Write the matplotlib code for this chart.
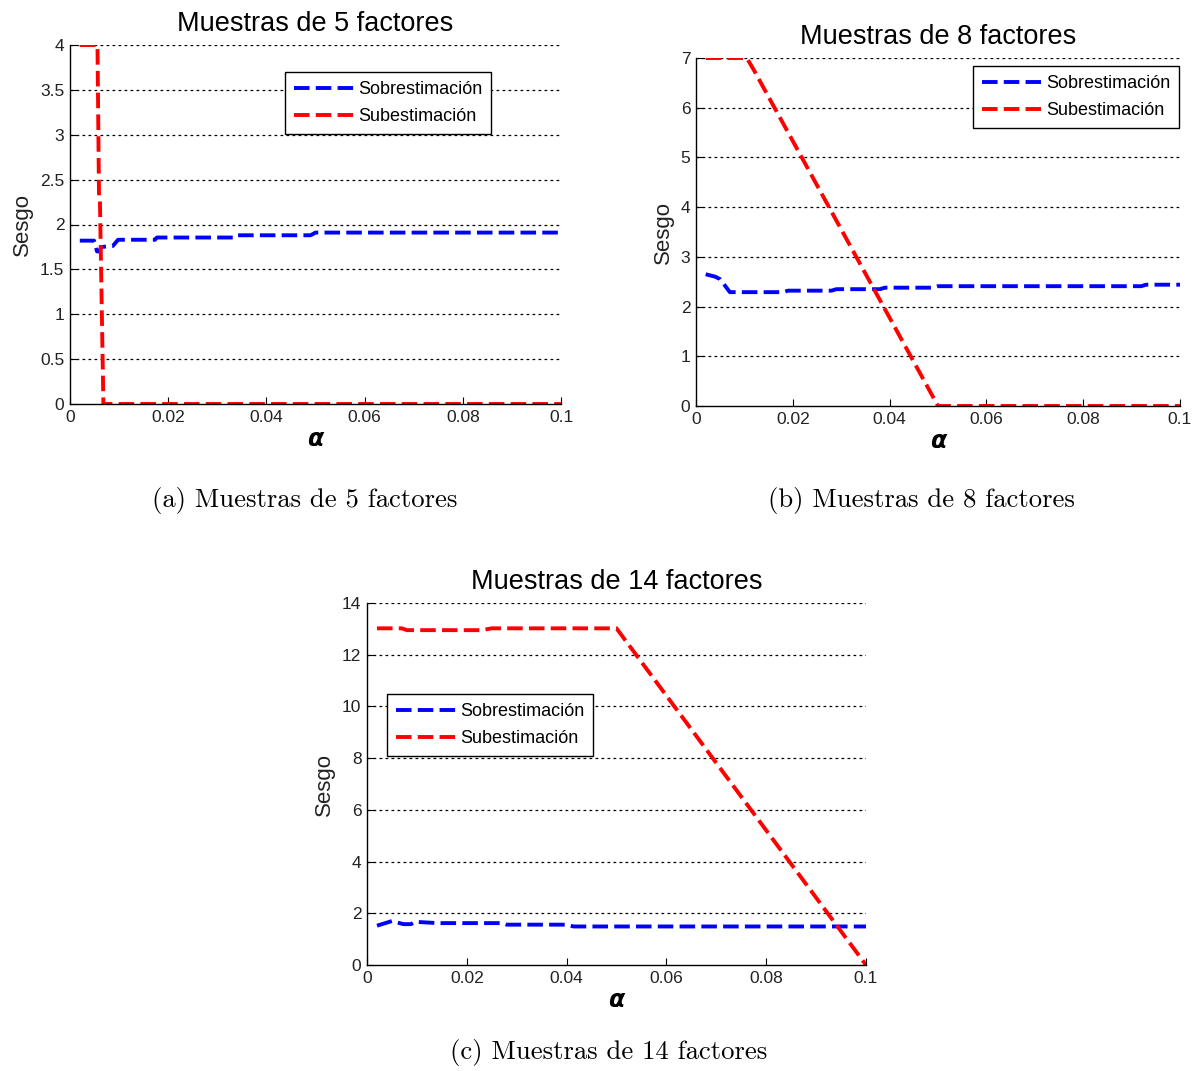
import matplotlib
matplotlib.use("Agg")
import matplotlib.pyplot as plt

# ---------------- data ----------------
titles = ["Muestras de 5 factores", "Muestras de 8 factores", "Muestras de 14 factores"]
captions = ["(a) Muestras de 5 factores", "(b) Muestras de 8 factores", "(c) Muestras de 14 factores"]
series_names = ["Sobrestimación", "Subestimación"]

xticks = [0, 0.02, 0.04, 0.06, 0.08, 0.1]
xticklabels = ["0", "0.02", "0.04", "0.06", "0.08", "0.1"]

# (a) 5 factores
a_over_x = [0.002, 0.0049, 0.0055, 0.006, 0.0064, 0.0087, 0.0098, 0.0173, 0.0177, 0.0335, 0.034, 0.049, 0.050, 0.1]
a_over_y = [1.82, 1.82, 1.70, 1.70, 1.75, 1.76, 1.83, 1.83, 1.855, 1.855, 1.88, 1.88, 1.91, 1.91]
a_under_x = [0.002, 0.0056, 0.0059, 0.0061, 0.0068, 0.1]
a_under_y = [4.0, 4.0, 2.35, 2.25, 0.0, 0.0]
a_yticks = [0, 0.5, 1, 1.5, 2, 2.5, 3, 3.5, 4]
a_yticklabels = ["0", "0.5", "1", "1.5", "2", "2.5", "3", "3.5", "4"]

# (b) 8 factores
b_over_x = [0.002, 0.004, 0.005, 0.007, 0.018, 0.019, 0.028, 0.029, 0.038, 0.039, 0.049, 0.050, 0.092, 0.093, 0.1]
b_over_y = [2.65, 2.60, 2.55, 2.29, 2.29, 2.32, 2.32, 2.35, 2.35, 2.38, 2.38, 2.41, 2.41, 2.44, 2.44]
b_under_x = [0.002, 0.0105, 0.012, 0.050, 0.1]
b_under_y = [7.0, 7.0, 6.75, 0.0, 0.0]
b_yticks = [0, 1, 2, 3, 4, 5, 6, 7]
b_yticklabels = ["0", "1", "2", "3", "4", "5", "6", "7"]

# (c) 14 factores
c_over_x = [0.002, 0.005, 0.0073, 0.0088, 0.0096, 0.0142, 0.0272, 0.028, 0.040, 0.0414, 0.1]
c_over_y = [1.52, 1.70, 1.58, 1.58, 1.67, 1.62, 1.62, 1.56, 1.56, 1.49, 1.49]
c_under_x = [0.002, 0.007, 0.008, 0.023, 0.025, 0.050, 0.1]
c_under_y = [13.02, 13.02, 12.95, 12.95, 13.02, 13.02, 0.0]
c_yticks = [0, 2, 4, 6, 8, 10, 12, 14]
c_yticklabels = ["0", "2", "4", "6", "8", "10", "12", "14"]

# ---------------- layout ----------------
W, H = 1200, 1071
fig = plt.figure(figsize=(W / 100, H / 100), dpi=100)
plt.rcParams["font.family"] = ["Liberation Sans", "DejaVu Sans"]

def frac_rect(l, r, t, b):
    return [l / W, 1 - b / H, (r - l) / W, (b - t) / H]

panels = [
    dict(rect=frac_rect(70, 561, 45, 404), over=(a_over_x, a_over_y), under=(a_under_x, a_under_y),
         yt=a_yticks, ytl=a_yticklabels, ylim=(0, 4), leg=(0.438, 0.925)),
    dict(rect=frac_rect(696, 1180, 58, 406), over=(b_over_x, b_over_y), under=(b_under_x, b_under_y),
         yt=b_yticks, ytl=b_yticklabels, ylim=(0, 7), leg=(0.572, 0.977)),
    dict(rect=frac_rect(367, 866, 603, 965), over=(c_over_x, c_over_y), under=(c_under_x, c_under_y),
         yt=c_yticks, ytl=c_yticklabels, ylim=(0, 14), leg=(0.040, 0.748)),
]

tick_color = "#222222"
dash = (4.0, 1.6)

for i, p in enumerate(panels):
    ax = fig.add_axes(p["rect"])
    ax.set_xlim(0, 0.1)
    ax.set_ylim(*p["ylim"])
    for yv in p["yt"][1:]:
        ax.axhline(yv, color="black", lw=0.9, linestyle=(0, (2.2, 2.6)), zorder=1)
    l1, = ax.plot(p["over"][0], p["over"][1], color="#0000ff", lw=2.8, dashes=dash, zorder=3,
                  label=series_names[0])
    l2, = ax.plot(p["under"][0], p["under"][1], color="#ff0000", lw=2.8, dashes=dash, zorder=3,
                  label=series_names[1])
    for s in ["top", "right"]:
        ax.spines[s].set_visible(False)
    for s in ["left", "bottom"]:
        ax.spines[s].set_linewidth(1.0)
        ax.spines[s].set_color("black")
    ax.spines["left"].set_zorder(4)
    ax.spines["bottom"].set_zorder(4)
    ax.set_xticks(xticks)
    ax.set_xticklabels(xticklabels)
    ax.set_yticks(p["yt"])
    ax.set_yticklabels(p["ytl"])
    ax.tick_params(direction="in", length=5, width=0.8, labelsize=12.5, colors="black",
                   labelcolor=tick_color, pad=4)
    ax.set_ylabel("Sesgo", fontsize=16, color=tick_color, labelpad=5)
    ax.set_xlabel("α", fontsize=17, fontweight="bold", fontstyle="italic",
                  family="DejaVu Sans", labelpad=2)
    ax.set_title(titles[i], fontsize=19.5, pad=10, color="black")
    leg = ax.legend(handles=[l1, l2], loc="upper left", bbox_to_anchor=p["leg"],
                    fontsize=13, frameon=True, fancybox=False, framealpha=1,
                    edgecolor="black", handlelength=3.3, handletextpad=0.25,
                    borderpad=0.5, labelspacing=0.55, borderaxespad=0)
    leg.get_frame().set_linewidth(1.0)
    leg.set_zorder(5)

cap_font = dict(family="cmr10", fontsize=19.2, color="black", ha="center", va="center")
fig.text(305 / W, 1 - 500 / H, captions[0], **cap_font)
fig.text(921 / W, 1 - 500 / H, captions[1], **cap_font)
fig.text(609 / W, 1 - 1053 / H, captions[2], **cap_font)

fig.savefig("out.png", dpi=100)
